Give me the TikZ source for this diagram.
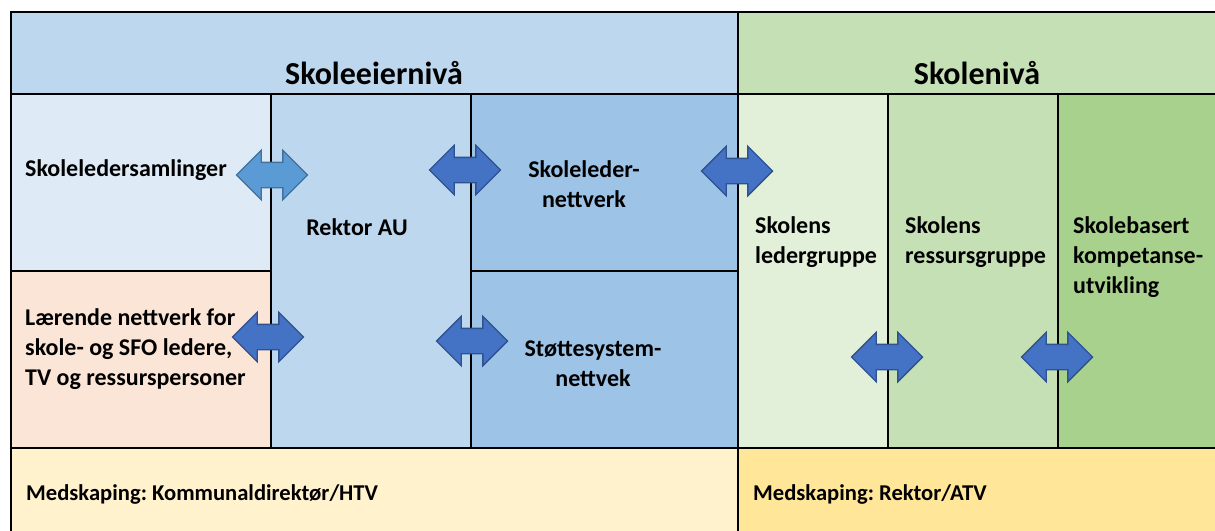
\documentclass[tikz,border=0pt]{standalone}
\usepackage{fontspec}
\setmainfont{Carlito}
\usetikzlibrary{shapes.arrows}
\usepackage{xcolor}
\definecolor{hdblue}{HTML}{BDD7EE}
\definecolor{paleblue}{HTML}{DEEBF7}
\definecolor{midblue}{HTML}{9DC3E6}
\definecolor{peach}{HTML}{FBE5D6}
\definecolor{palegreen}{HTML}{E2F0D9}
\definecolor{hdgreen}{HTML}{C5E0B4}
\definecolor{midgreen}{HTML}{A9D18E}
\definecolor{paleyellow}{HTML}{FFF2CC}
\definecolor{midyellow}{HTML}{FFE699}
\definecolor{arrlight}{HTML}{5B9BD5}
\definecolor{arrlightdraw}{HTML}{41719C}
\definecolor{arrdark}{HTML}{4472C4}
\definecolor{arrdarkdraw}{HTML}{2F528F}
\frenchspacing

\begin{document}
\begin{tikzpicture}[x=1pt,y=-1pt,
  cell/.style={draw=black,line width=1.8pt},
  lbl/.style={font=\fontsize{24}{30}\selectfont\bfseries,inner sep=0pt},
  foot/.style={font=\fontsize{22.6}{28}\selectfont\bfseries,inner sep=0pt},
  head/.style={font=\fontsize{32}{36}\selectfont\bfseries,inner sep=0pt},
  dbl/.style={double arrow,draw=arrdarkdraw,fill=arrdark,line width=1.4pt,
    text width=0pt,text height=12pt,text depth=12pt,
    minimum height=71pt,double arrow head extend=12pt,inner sep=0pt}]
\useasboundingbox (0,0) rectangle (1215,530);
\clip (0,0) rectangle (1215,530);
% level headers
\draw[cell,fill=hdblue] (11,12) rectangle (738,94);
\draw[cell,fill=hdgreen] (738,12) rectangle (1220,94);
\node[head] (eier) at (374,73) {Skoleeiernivå};
\node[head] (skole) at (977,73) {Skolenivå};
% owner level cells
\draw[cell,fill=paleblue] (11,94) rectangle (271,271);
\draw[cell,fill=peach] (11,271) rectangle (271,448);
\draw[cell,fill=hdblue] (271,94) rectangle (471,448);
\draw[cell,fill=midblue] (471,94) rectangle (738,271);
\draw[cell,fill=midblue] (471,271) rectangle (738,448);
% school level cells
\draw[cell,fill=palegreen] (738,94) rectangle (888,448);
\draw[cell,fill=hdgreen] (888,94) rectangle (1058,448);
\draw[cell,fill=midgreen] (1058,94) rectangle (1220,448);
% co-creation row
\draw[cell,fill=paleyellow] (11,448) rectangle (738,535);
\draw[cell,fill=midyellow] (738,448) rectangle (1220,535);
% labels
\node[lbl,anchor=west] (samling) at (25,170) {Skoleledersamlinger};
\node[lbl] (rektor) at (357,227) {Rektor AU};
\node[lbl,align=center] (nettverk) at (584,184) {Skoleleder-\\nettverk};
\node[lbl,anchor=west,align=left] (laerende) at (25,349)
  {Lærende nettverk for\\skole- og SFO ledere,\\TV og ressurspersoner};
\node[lbl,align=center] (stotte) at (593,364) {Støttesystem-\\nettvek};
\node[lbl,anchor=west,align=left] (leder) at (755,242) {Skolens\\ledergruppe};
\node[lbl,anchor=west,align=left] (ressurs) at (905,242) {Skolens\\ressursgruppe};
\node[lbl,anchor=west,align=left] (kompetanse) at (1073,257)
  {Skolebasert\\kompetanse-\\utvikling};
\node[foot,anchor=west] (medeier) at (26,494) {Medskaping: Kommunaldirektør/HTV};
\node[foot,anchor=west] (medskole) at (753,494) {Medskaping: Rektor/ATV};
% double arrows across the borders
\node[dbl,fill=arrlight,draw=arrlightdraw] (a1) at (272,175) {};
\node[dbl] (a2) at (465,170) {};
\node[dbl] (a3) at (737,171) {};
\node[dbl] (a4) at (268,337) {};
\node[dbl] (a5) at (472,341) {};
\node[dbl] (a6) at (887,357) {};
\node[dbl] (a7) at (1057,357) {};
\end{tikzpicture}
\end{document}
